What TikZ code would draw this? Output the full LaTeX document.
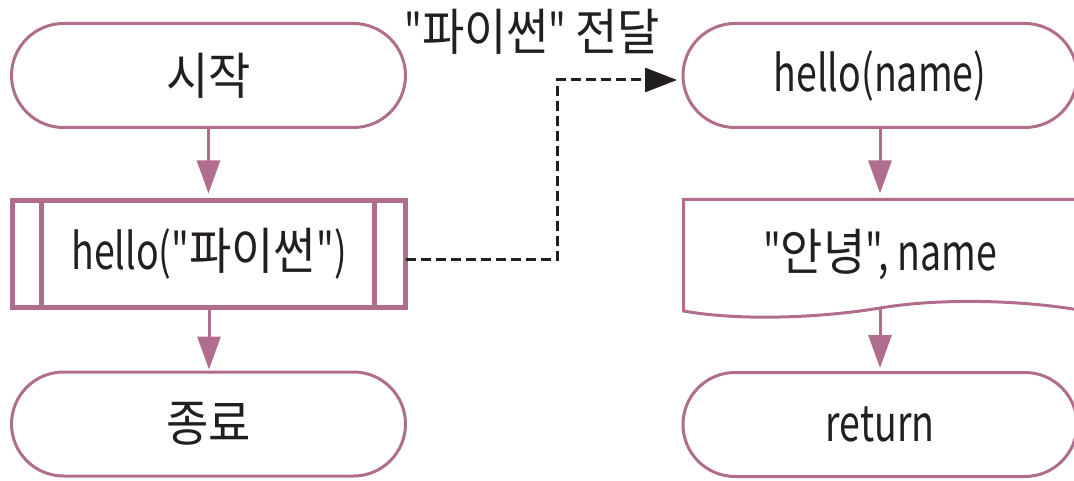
\documentclass[tikz,border=0pt]{standalone}
\usepackage{fontspec}
\setmainfont[FakeStretch=0.75,Ligatures=TeXOff]{Noto Sans CJK KR}
\newfontfamily\han[FakeStretch=0.92,Ligatures=TeXOff]{Noto Sans CJK KR}
\usetikzlibrary{arrows.meta,shapes.misc}
\definecolor{mauve}{RGB}{176,110,140}
\definecolor{ink}{RGB}{35,31,32}
\begin{document}
\begin{tikzpicture}[x=1pt,y=-1pt,
  every node/.style={font=\fontsize{50}{60}\selectfont, text=ink, outer sep=0pt},
  term/.style={draw=mauve, line width=3pt, rounded rectangle, minimum width=394pt, minimum height=104pt, inner sep=0pt},
  predef/.style={draw=mauve, line width=5pt, rectangle, minimum width=393pt, minimum height=107pt, inner sep=0pt},
  flow/.style={draw=mauve, line width=3pt, -{Triangle[width=23pt,length=33pt]}},
  pass/.style={draw=ink, line width=3pt, dash pattern=on 10pt off 5pt, -{Triangle[width=24pt,length=32pt]}}]
\useasboundingbox (0,0) rectangle (1074,481);
% left column
\node[term] (start) at (208.5,75.5) {\han 시작};
\node[predef] (call) at (209,254) {hello("{\han 파이썬}")};
\draw[mauve, line width=5pt] ([xshift=29pt]call.north west) -- ([xshift=29pt]call.south west);
\draw[mauve, line width=5pt] ([xshift=-31pt]call.north east) -- ([xshift=-31pt]call.south east);
\node[term] (end) at (208.5,424) {\han 종료};
% right column
\node[term] (hn) at (880,75.5) {hello(name)};
\draw[mauve, line width=3pt] (1079,312) -- (1079,199.5) -- (683.5,199.5) -- (683.5,311)
  .. controls (740,321) and (820,318) .. (880,308)
  .. controls (940,298) and (1020,300) .. (1079,310);
\node (msg) at (880,255) {"{\han 안녕}", name};
\coordinate (docb) at (880,308);
\coordinate (doct) at (880,199.5);
\node[term] (ret) at (880,424.5) {return};
% flow arrows
\draw[flow, shorten >=7pt] (start.south) -- (start.south |- call.north);
\draw[flow, shorten >=2.5pt] (call.south) -- (call.south |- end.north);
\draw[flow, shorten >=6pt] (hn.south) -- (doct);
\draw[flow, shorten >=4.5pt] (docb) -- (ret.north);
% argument passing
\coordinate (bend) at (557,80);
\coordinate (from) at (405.5,260);
\draw[pass, shorten >=6pt] (from) -| (bend) -- (bend -| hn.west);
\node (lbl) at (532,32) {"{\han 파이썬}" {\han 전달}};
\end{tikzpicture}
\end{document}
